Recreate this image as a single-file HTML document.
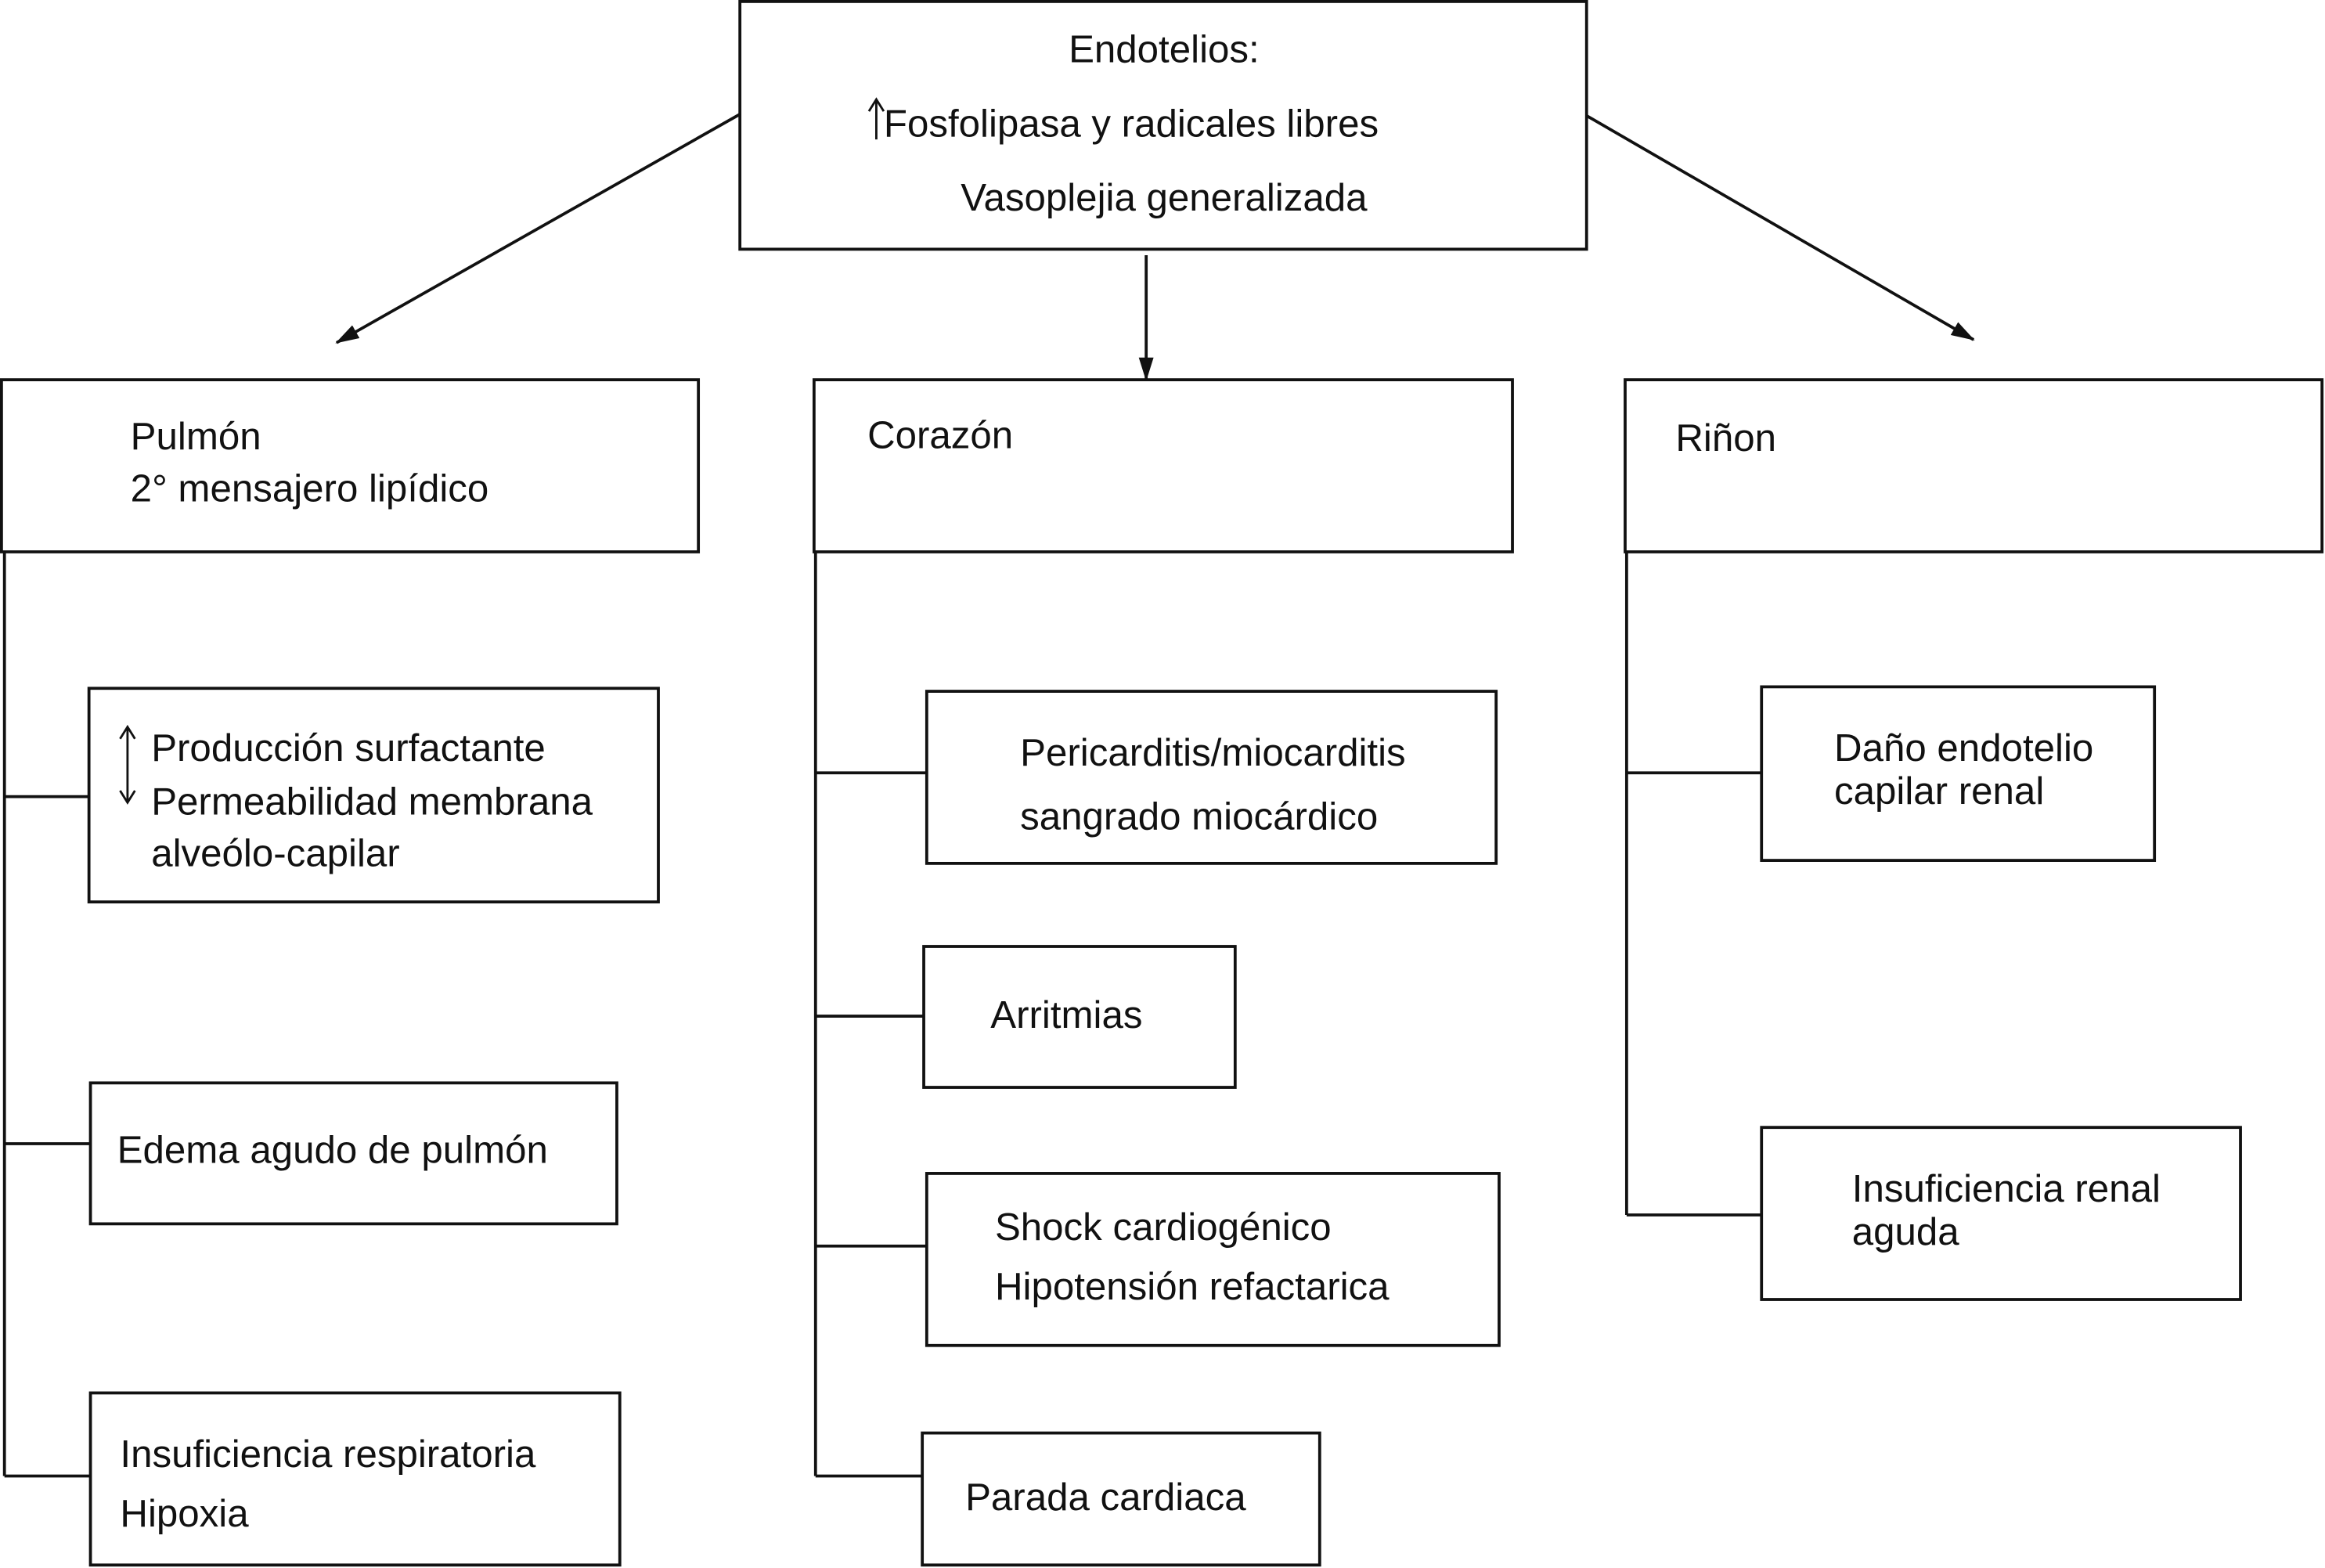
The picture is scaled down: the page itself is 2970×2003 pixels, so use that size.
<!DOCTYPE html>
<html><head><meta charset="utf-8"><style>
html,body{margin:0;padding:0;background:#fff;}
svg{display:block;}
text{font-family:"Liberation Sans",Arial,sans-serif;font-size:26px;fill:#111;}
</style></head><body>
<svg width="2970" height="2003" viewBox="0 0 1568 1057" preserveAspectRatio="none" xmlns="http://www.w3.org/2000/svg">
<defs><marker id="ah" markerWidth="16" markerHeight="10" refX="15" refY="5" orient="auto" markerUnits="userSpaceOnUse"><path d="M0,0 L16,5 L0,10 Z" fill="#111"/></marker></defs>
<g fill="none" stroke="#111" stroke-width="2">
<rect x="499" y="1" width="571" height="167"/>
<line x1="499" y1="77" x2="227" y2="231" marker-end="url(#ah)"/>
<line x1="773" y1="172" x2="773" y2="256" marker-end="url(#ah)"/>
<line x1="1070" y1="78" x2="1331" y2="229" marker-end="url(#ah)"/>
<rect x="1" y="256" width="470" height="116"/>
<rect x="549" y="256" width="471" height="116"/>
<rect x="1096" y="256" width="470" height="116"/>
<line x1="3" y1="372" x2="3" y2="995"/>
<line x1="3" y1="537" x2="60" y2="537"/>
<line x1="3" y1="771" x2="61" y2="771"/>
<line x1="3" y1="995" x2="61" y2="995"/>
<rect x="60" y="464" width="384" height="144"/>
<rect x="61" y="730" width="355" height="95"/>
<rect x="61" y="939" width="357" height="116"/>
<line x1="550" y1="372" x2="550" y2="995"/>
<line x1="550" y1="521" x2="625" y2="521"/>
<line x1="550" y1="685" x2="623" y2="685"/>
<line x1="550" y1="840" x2="625" y2="840"/>
<line x1="550" y1="995" x2="622" y2="995"/>
<rect x="625" y="466" width="384" height="116"/>
<rect x="623" y="638" width="210" height="95"/>
<rect x="625" y="791" width="386" height="116"/>
<rect x="622" y="966" width="268" height="89"/>
<line x1="1097" y1="372" x2="1097" y2="819"/>
<line x1="1097" y1="521" x2="1188" y2="521"/>
<line x1="1097" y1="819" x2="1188" y2="819"/>
<rect x="1188" y="463" width="265" height="117"/>
<rect x="1188" y="760" width="323" height="116"/>
<g stroke-width="1.5">
<line x1="86" y1="491" x2="86" y2="540"/>
<path d="M81,498 L86,490 L91,498 M81,533 L86,541 L91,533"/>
<line x1="591" y1="68" x2="591" y2="94"/>
<path d="M586,75 L591,67 L596,75"/>
</g>
</g>
<text x="785" y="42" text-anchor="middle">Endotelios:</text>
<text x="596" y="92">Fosfolipasa y radicales libres</text>
<text x="785" y="142" text-anchor="middle">Vasoplejia generalizada</text>
<text x="88" y="303">Pulmón</text>
<text x="88" y="338">2° mensajero lipídico</text>
<text x="585" y="302">Corazón</text>
<text x="1130" y="304">Riñon</text>
<text x="102" y="513">Producción surfactante</text>
<text x="102" y="549">Permeabilidad membrana</text>
<text x="102" y="584">alveólo-capilar</text>
<text x="79" y="784">Edema agudo de pulmón</text>
<text x="81" y="989">Insuficiencia respiratoria</text>
<text x="81" y="1029">Hipoxia</text>
<text x="688" y="516">Pericarditis/miocarditis</text>
<text x="688" y="559">sangrado miocárdico</text>
<text x="668" y="693">Arritmias</text>
<text x="671" y="836">Shock cardiogénico</text>
<text x="671" y="876">Hipotensión refactarica</text>
<text x="651" y="1018">Parada cardiaca</text>
<text x="1237" y="513">Daño endotelio</text>
<text x="1237" y="542">capilar renal</text>
<text x="1249" y="810">Insuficiencia renal</text>
<text x="1249" y="839">aguda</text>
</svg>
</body></html>
